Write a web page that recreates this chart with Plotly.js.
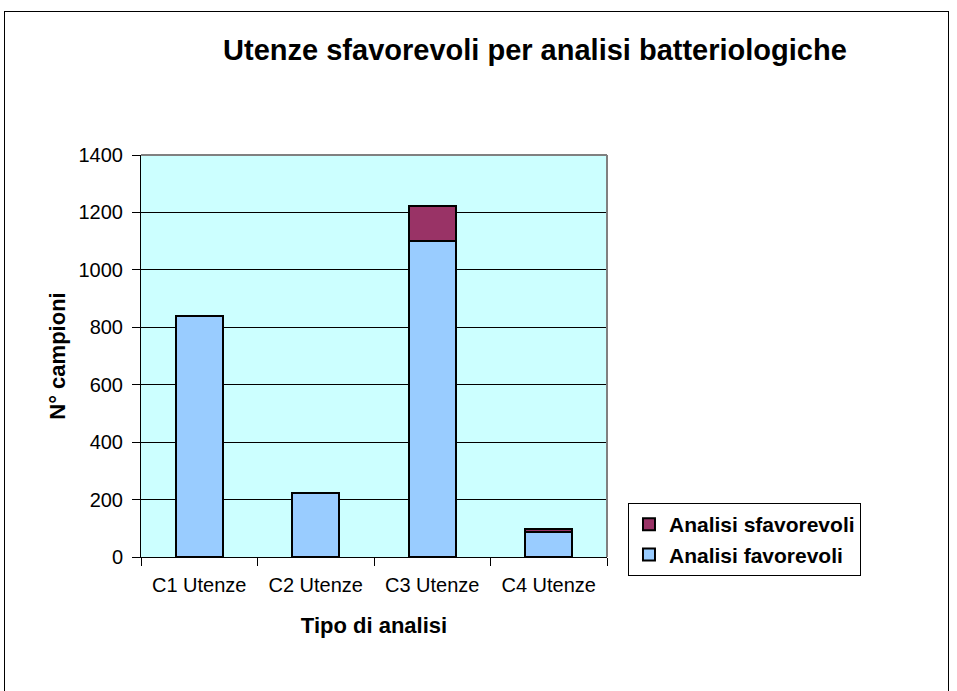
<!DOCTYPE html>
<html>
<head>
<meta charset="utf-8">
<script src="https://cdn.plot.ly/plotly-3.0.1.min.js"></script>
<style>
html,body{margin:0;padding:0;background:#fff;}
#frame{position:absolute;left:4px;top:11px;width:945px;height:700px;border:1px solid #000;box-sizing:border-box;}
#chart{position:absolute;left:0;top:0;width:957px;height:691px;}
</style>
</head>
<body>
<div id="frame"></div>
<div id="chart"></div>
<script>
const categories = ["C1 Utenze", "C2 Utenze", "C3 Utenze", "C4 Utenze"];
const favorevoli = [840, 222, 1100, 88];
const sfavorevoli = [0, 0, 123, 8];
const yTicks = [0, 200, 400, 600, 800, 1000, 1200, 1400];

const font = "Arial, 'Liberation Sans', sans-serif";

const traces = [
  {
    type: "bar", name: "Analisi favorevoli", x: categories, y: favorevoli,
    marker: {color: "#99CCFF", line: {color: "#000", width: 2}}
  },
  {
    type: "bar", name: "Analisi sfavorevoli", x: categories, y: sfavorevoli,
    marker: {color: "#993366", line: {color: "#000", width: 2}}
  }
];

const layout = {
  width: 957, height: 691,
  margin: {l: 141, r: 350, t: 155, b: 134},
  paper_bgcolor: "rgba(0,0,0,0)",
  plot_bgcolor: "#CCFFFF",
  barmode: "stack",
  bargap: 0.6,
  font: {family: font, color: "#000", size: 20},
  title: {
    text: "<b>Utenze sfavorevoli per analisi batteriologiche</b>",
    font: {family: font, size: 29, color: "#000"},
    xref: "container", x: 0.559, xanchor: "center",
    yref: "container", y: 0.928, yanchor: "middle"
  },
  xaxis: {
    type: "category",
    tickson: "boundaries",
    ticks: "outside", ticklen: 8, tickcolor: "#000",
    ticklabelstandoff: 10,
    showline: true, linecolor: "#000", linewidth: 1,
    mirror: false,
    tickfont: {size: 20},
    title: {text: "<b>Tipo di analisi</b>", font: {size: 22}, standoff: 22}
  },
  yaxis: {
    range: [0, 1400],
    tickvals: yTicks,
    ticks: "outside", ticklen: 8, tickcolor: "#000",
    ticklabelstandoff: 5,
    showline: true, linecolor: "#000", linewidth: 1,
    gridcolor: "#000", gridwidth: 1,
    zeroline: false,
    tickfont: {size: 20},
    title: {text: "<b>N° campioni</b>", font: {size: 22}, standoff: 6}
  },
  shapes: [
    {type: "line", xref: "paper", yref: "paper", x0: 0, x1: 1, y0: 1, y1: 1, line: {color: "#808080", width: 2}},
    {type: "line", xref: "paper", yref: "paper", x0: 1, x1: 1, y0: 0, y1: 1, line: {color: "#808080", width: 2}}
  ],
  legend: {
    traceorder: "reversed",
    x: 1.045, xanchor: "left",
    y: 0.134, yanchor: "top",
    bordercolor: "#000", borderwidth: 1,
    bgcolor: "#fff",
    font: {size: 21, family: font, weight: "bold"},
    itemwidth: 30,
    tracegroupgap: 0
  },
  showlegend: true
};

Plotly.newPlot("chart", traces, layout, {displayModeBar: false, staticPlot: true});
</script>
</body>
</html>
